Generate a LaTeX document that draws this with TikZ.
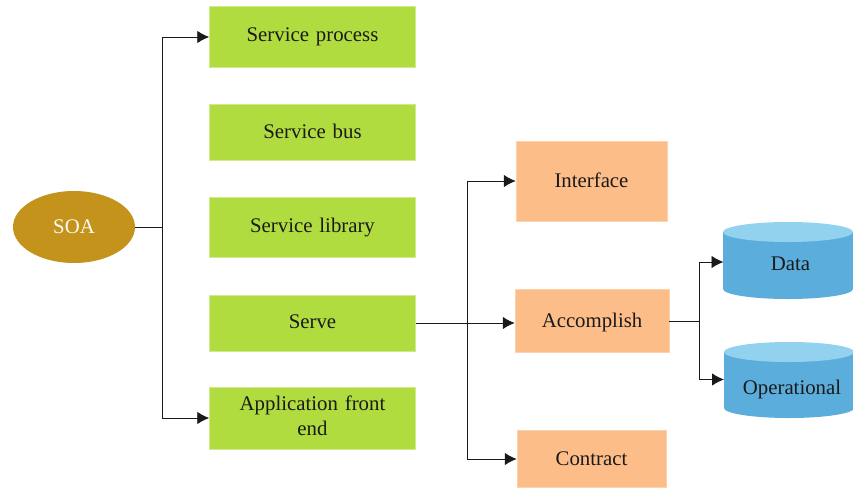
\documentclass[tikz,border=0pt]{standalone}
\usepackage{fontspec}
\setmainfont{Liberation Serif}
\usetikzlibrary{arrows.meta,shapes.geometric}
\definecolor{grn}{HTML}{B0DC3F}
\definecolor{org}{HTML}{FDBD89}
\definecolor{gold}{HTML}{C4931C}
\definecolor{cylb}{HTML}{5BAEDC}
\definecolor{cylt}{HTML}{92D2EE}
\definecolor{ink}{HTML}{1A1A1A}
\newcommand{\nudge}[2]{\raisebox{#1}[\height][\depth]{#2}}
\tikzset{
 px/.style={x=1pt,y=-1pt},
 lbl/.style={font=\fontsize{20.8}{25}\selectfont,text=ink},
 gbox/.style={lbl,fill=grn,draw=grn!60!white,line width=.5pt,inner sep=0pt,align=center,text width=190pt},
 obox/.style={lbl,fill=org,draw=org!70!white,line width=.5pt,inner sep=0pt,align=center},
 conn/.style={line width=.9pt,ink},
 arr/.style={conn,-{Latex[length=12pt,width=12.5pt]}}
}
\begin{document}
\begin{tikzpicture}[px]
\useasboundingbox (0,0) rectangle (853,487);
\fill[white] (0,0) rectangle (853,487);
\node[gbox,minimum width=206pt,minimum height=61pt] (sp) at (312.5,37) {Service process};
\node[gbox,minimum width=206pt,minimum height=56pt] (sb) at (312.5,132) {\nudge{1pt}{Service bus}};
\node[gbox,minimum width=206pt,minimum height=60pt] (sl) at (312.5,227.5) {Service library};
\node[gbox,minimum width=206pt,minimum height=56pt] (se) at (312.5,323) {\nudge{1pt}{Serve}};
\node[gbox,minimum width=206pt,minimum height=62pt] (af) at (312.5,418) {\nudge{2pt}{Application front}\\\nudge{2pt}{end}};
\node[ellipse,fill=gold,minimum width=122pt,minimum height=72pt,inner sep=0pt,lbl,text=white!95!gold] (soa) at (74,227) {SOA};
\node[obox,minimum width=151pt,minimum height=80pt] (in) at (591.5,181) {\nudge{1pt}{Interface}};
\node[obox,minimum width=154pt,minimum height=63pt] (ac) at (592,321) {\nudge{-1pt}{Accomplish}};
\node[obox,minimum width=149pt,minimum height=57pt] (co) at (591.5,459) {Contract};
\coordinate (t1) at (162,227);
\coordinate (t2) at (467,323);
\coordinate (t3) at (699,321);
% cylinders
\fill[cylb] (723,232) -- (723,289) arc[start angle=180,end angle=0,x radius=65,y radius=10] -- (853,232) -- cycle;
\fill[cylt] (788,232) ellipse[x radius=65,y radius=10];
\fill[cylb] (724,352) -- (724,408) arc[start angle=180,end angle=0,x radius=65,y radius=10] -- (854,352) -- cycle;
\fill[cylt] (789,352) ellipse[x radius=65,y radius=10];
\node[lbl] (da) at (790.5,264) {Data};
\node[lbl] (op) at (792,389) {Operational};
\coordinate (da1) at (723.5,262);
\coordinate (op1) at (724,379.5);
\draw[conn] (soa.east) -- (t1);
\draw[arr] (t1) |- (sp.west);
\draw[arr] (t1) |- (af.west);
\draw[arr] (se.east) -- (se.east -| ac.west);
\draw[arr] (t2) |- (in.west);
\draw[arr] (t2) |- (co.west);
\draw[conn] (ac.east) -- (t3);
\draw[arr] (t3) |- (da1);
\draw[arr] (t3) |- (op1);
\end{tikzpicture}
\end{document}
